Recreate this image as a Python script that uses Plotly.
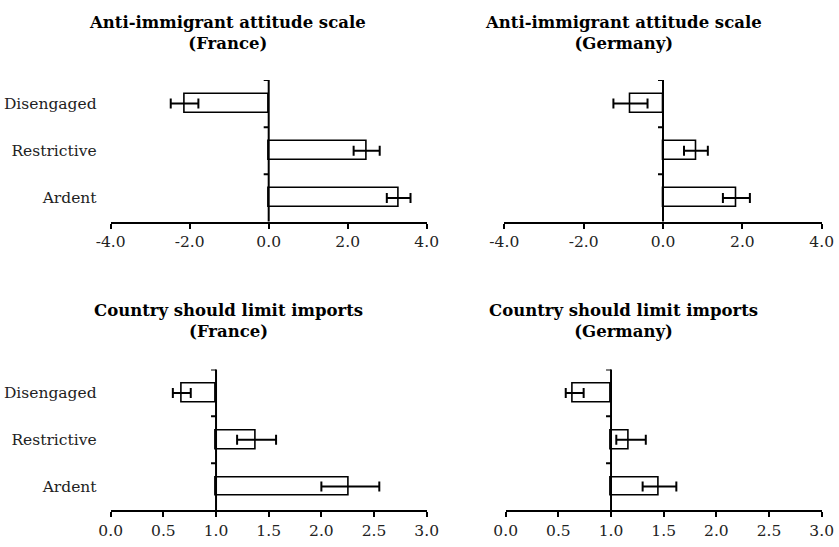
import plotly.graph_objects as go

# Respondent groups, listed bottom to top
groups = ["Ardent", "Restrictive", "Disengaged"]

# Anti-immigrant attitude scale: mean and half-width of the interval
imm_france = [3.29, 2.48, -2.13]
imm_france_err = [0.30, 0.33, 0.35]
imm_germany = [1.85, 0.83, -0.82]
imm_germany_err = [0.34, 0.30, 0.43]

# Country should limit imports: odds ratio with lower / upper bounds
imp_france = [2.26, 1.38, 0.67]
imp_france_lo = [2.00, 1.20, 0.59]
imp_france_hi = [2.55, 1.57, 0.76]
imp_germany = [1.45, 1.17, 0.64]
imp_germany_lo = [1.30, 1.05, 0.57]
imp_germany_hi = [1.62, 1.33, 0.74]

imm_ticks = [-4, -2, 0, 2, 4]
imm_ticktext = ["-4.0", "-2.0", "0.0", "2.0", "4.0"]
imp_ticks = [0, 0.5, 1, 1.5, 2, 2.5, 3]
imp_ticktext = ["0.0", "0.5", "1.0", "1.5", "2.0", "2.5", "3.0"]

FONT = "DejaVu Serif"
W, H = 839, 547

panels = [
    dict(title=("Anti-immigrant attitude scale", "(France)"),
         vals=imm_france, lo=[v - e for v, e in zip(imm_france, imm_france_err)],
         hi=[v + e for v, e in zip(imm_france, imm_france_err)],
         base=0, rng=[-4, 4], ticks=imm_ticks, ticktext=imm_ticktext, labels=True),
    dict(title=("Anti-immigrant attitude scale", "(Germany)"),
         vals=imm_germany, lo=[v - e for v, e in zip(imm_germany, imm_germany_err)],
         hi=[v + e for v, e in zip(imm_germany, imm_germany_err)],
         base=0, rng=[-4, 4], ticks=imm_ticks, ticktext=imm_ticktext, labels=False),
    dict(title=("Country should limit imports", "(France)"),
         vals=imp_france, lo=imp_france_lo, hi=imp_france_hi,
         base=1, rng=[0, 3], ticks=imp_ticks, ticktext=imp_ticktext, labels=True),
    dict(title=("Country should limit imports", "(Germany)"),
         vals=imp_germany, lo=imp_germany_lo, hi=imp_germany_hi,
         base=1, rng=[0, 3], ticks=imp_ticks, ticktext=imp_ticktext, labels=False),
]

# plot-area boxes in pixels: (left, right, top, bottom)
boxes = [(110.7, 426.7, 80, 221.5), (504.3, 821.7, 80, 221.5),
         (110.7, 426.7, 369.5, 510), (505.7, 821.7, 369.5, 510)]
title_centers = [(227, 33), (623, 33), (228, 321), (623, 321)]

fig = go.Figure()
shapes = []
annotations = []

for i, (p, box, tc) in enumerate(zip(panels, boxes, title_centers)):
    n = "" if i == 0 else str(i + 1)
    xa, ya = "x" + n, "y" + n
    left, right, top, bottom = box

    # bars drawn from the reference value outward
    fig.add_trace(go.Bar(
        y=groups, x=[v - p["base"] for v in p["vals"]], base=p["base"],
        orientation="h", width=0.4,
        marker=dict(color="white", line=dict(color="black", width=1.6)),
        xaxis=xa, yaxis=ya, showlegend=False, hoverinfo="skip"))

    # interval whiskers
    fig.add_trace(go.Scatter(
        y=groups, x=p["vals"], mode="markers",
        marker=dict(size=1, color="rgba(0,0,0,0)"),
        error_x=dict(type="data", symmetric=False,
                     array=[h - v for h, v in zip(p["hi"], p["vals"])],
                     arrayminus=[v - l for v, l in zip(p["vals"], p["lo"])],
                     color="black", thickness=2, width=5),
        xaxis=xa, yaxis=ya, showlegend=False, hoverinfo="skip"))

    ax_key = "xaxis" + n
    ay_key = "yaxis" + n
    fig.layout[ax_key] = dict(
        domain=[left / W, right / W], range=p["rng"], anchor=ya,
        automargin=False,
        tickvals=p["ticks"], ticktext=p["ticktext"],
        ticks="outside", ticklen=5, tickwidth=2, tickcolor="black",
        showline=True, linewidth=2, linecolor="black",
        showgrid=False, zeroline=False,
        tickfont=dict(family=FONT, size=15.5, color="#222"))
    # group labels sit at the left edge, spaced off by invisible ticks
    fig.layout[ay_key] = dict(
        domain=[1 - bottom / H, 1 - top / H], range=[-0.5, 2.5], anchor=xa,
        automargin=False,
        type="category", categoryorder="array", categoryarray=groups,
        showline=False, ticks="outside", ticklen=10,
        tickcolor="rgba(0,0,0,0)", showgrid=False, zeroline=False,
        showticklabels=p["labels"],
        tickfont=dict(family=FONT, size=15.5, color="#222"))

    # value axis drawn through the reference value
    shapes.append(dict(type="line", xref=xa, yref=ya + " domain",
                       x0=p["base"], x1=p["base"], y0=0, y1=1,
                       line=dict(color="black", width=2)))
    for b in [0.5, 1.5, 2.5]:
        shapes.append(dict(type="line", xref=xa, yref=ya,
                           xsizemode="pixel", xanchor=p["base"],
                           x0=-5, x1=0, y0=b, y1=b,
                           line=dict(color="black", width=2)))

    annotations.append(dict(
        text="<b>" + p["title"][0] + "</b><br><b>" + p["title"][1] + "</b>",
        xref="paper", yref="paper", x=tc[0] / W, y=1 - tc[1] / H,
        xanchor="center", yanchor="middle", showarrow=False,
        font=dict(family=FONT, size=16.5, color="black")))

fig.update_layout(
    width=W, height=H, margin=dict(l=0, r=0, t=0, b=0),
    paper_bgcolor="white", plot_bgcolor="white",
    shapes=shapes, annotations=annotations, bargap=0)

fig.write_html("out.html")
